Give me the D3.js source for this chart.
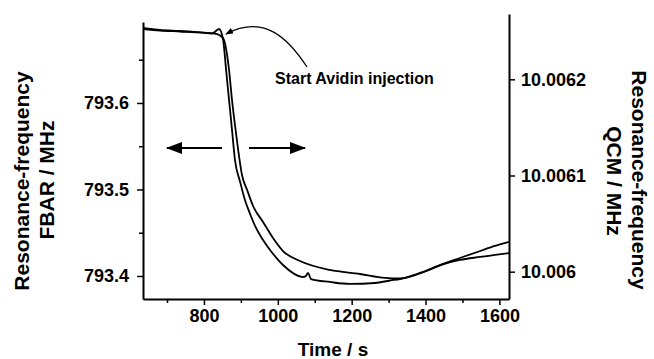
<!DOCTYPE html>
<html>
<head>
<meta charset="utf-8">
<script src="https://cdn.jsdelivr.net/npm/d3@7"></script>
<style>
  body { margin: 0; background: #fff; }
  svg { display: block; font-family: "Liberation Sans", Arial, sans-serif; font-weight: bold; }
  .axis path, .axis line { stroke: #000; }
</style>
</head>
<body>
<svg id="chart" width="654" height="359"></svg>
<script>
// FBAR curve (left axis)
var fbarTime = [635, 681, 735, 789, 822, 841, 852, 860, 868, 876, 884, 898, 911, 925, 941, 960, 979, 1014, 1068, 1076, 1082, 1090, 1141, 1195, 1263, 1304, 1331, 1385, 1447, 1493, 1548, 1588, 1626];
var fbarFreq = [793.6867, 793.6844, 793.6832, 793.6815, 793.6803, 793.6855, 793.6728, 793.6382, 793.6035, 793.5688, 793.5341, 793.5087, 793.4879, 793.4717, 793.4555, 793.4416, 793.4301, 793.4127, 793.3988, 793.4000, 793.4035, 793.3965, 793.3931, 793.3908, 793.3919, 793.3948, 793.3965, 793.4035, 793.4139, 793.4208, 793.4289, 793.4347, 793.4393];

// QCM curve (right axis)
var qcmTime = [635, 681, 735, 789, 830, 852, 868, 876, 884, 892, 903, 917, 933, 960, 987, 1014, 1060, 1141, 1223, 1290, 1331, 1385, 1447, 1493, 1548, 1588, 1626];
var qcmFreq = [10.0062523, 10.0062507, 10.0062497, 10.0062487, 10.0062476, 10.0062429, 10.0062097, 10.0061785, 10.0061525, 10.0061286, 10.0061005, 10.0060849, 10.0060683, 10.0060517, 10.0060350, 10.0060215, 10.0060111, 10.0060018, 10.0059976, 10.0059935, 10.0059929, 10.0059981, 10.0060075, 10.0060122, 10.0060153, 10.0060174, 10.0060194];

var xTicks = [800, 1000, 1200, 1400, 1600];
var xMinor = [700, 900, 1100, 1300, 1500];
var leftTicks = [793.4, 793.5, 793.6];
var leftLabels = ["793.4", "793.5", "793.6"];
var leftMinor = [793.45, 793.55, 793.65];
var rightTicks = [10.006, 10.0061, 10.0062];
var rightLabels = ["10.006", "10.0061", "10.0062"];

var svg = d3.select("#chart");

var x = d3.scaleLinear().domain([635, 1626]).range([143, 509]);
var yL = d3.scaleLinear().domain([793.3734, 793.6936]).range([299, 22]);
var yR = d3.scaleLinear().domain([10.0059716, 10.0062679]).range([299, 14]);

function styleAxis(g, size) {
    g.attr("class", "axis");
    g.select(".domain").attr("stroke-width", 2);
    g.selectAll(".tick line").attr("stroke-width", 1.5);
    g.selectAll("text").attr("fill", "#000").style("font-size", size + "px").style("font-weight", "bold");
}

function minorTicks(g) {
    g.select(".domain").remove();
    g.selectAll("line").attr("stroke", "#000").attr("stroke-width", 1.5);
}

// bottom axis
svg.append("g").attr("transform", "translate(0,299)")
    .call(d3.axisBottom(x).tickValues(xTicks).tickSize(6).tickSizeOuter(0).tickPadding(4).tickFormat(d3.format("d")))
    .call(styleAxis, 18);
svg.append("g").attr("transform", "translate(0,299)")
    .call(d3.axisBottom(x).tickValues(xMinor).tickSize(4).tickSizeOuter(0).tickFormat(""))
    .call(minorTicks);

// left axis
svg.append("g").attr("transform", "translate(143,0)")
    .call(d3.axisLeft(yL).tickValues(leftTicks).tickSize(6).tickSizeOuter(0).tickPadding(8).tickFormat(function(d, i) { return leftLabels[i]; }))
    .call(styleAxis, 18);
svg.append("g").attr("transform", "translate(143,0)")
    .call(d3.axisLeft(yL).tickValues(leftMinor).tickSize(4).tickSizeOuter(0).tickFormat(""))
    .call(minorTicks);

// right axis
svg.append("g").attr("transform", "translate(509,0)")
    .call(d3.axisRight(yR).tickValues(rightTicks).tickSize(6).tickSizeOuter(0).tickPadding(6).tickFormat(function(d, i) { return rightLabels[i]; }))
    .call(styleAxis, 18);

// curves
var fbarLine = d3.line().curve(d3.curveMonotoneX).x(function(d) { return x(d[0]); }).y(function(d) { return yL(d[1]); });
var qcmLine = d3.line().curve(d3.curveMonotoneX).x(function(d) { return x(d[0]); }).y(function(d) { return yR(d[1]); });

svg.append("path").datum(d3.zip(fbarTime, fbarFreq))
    .attr("d", fbarLine).attr("fill", "none").attr("stroke", "#000").attr("stroke-width", 1.8);
svg.append("path").datum(d3.zip(qcmTime, qcmFreq))
    .attr("d", qcmLine).attr("fill", "none").attr("stroke", "#000").attr("stroke-width", 1.8);

// arrow markers
var defs = svg.append("defs");
defs.append("marker").attr("id", "bighead").attr("viewBox", "0 0 16 12")
    .attr("refX", 15).attr("refY", 6).attr("markerWidth", 16).attr("markerHeight", 12)
    .attr("markerUnits", "userSpaceOnUse").attr("orient", "auto")
    .append("path").attr("d", "M0,0 L16,6 L0,12 Z").attr("fill", "#000");
defs.append("marker").attr("id", "smallhead").attr("viewBox", "0 0 8 6")
    .attr("refX", 7).attr("refY", 3).attr("markerWidth", 8).attr("markerHeight", 6)
    .attr("markerUnits", "userSpaceOnUse").attr("orient", "auto")
    .append("path").attr("d", "M0,0 L8,3 L0,6 Z").attr("fill", "#000");

// axis-pointing arrows
svg.append("line").attr("x1", 222).attr("y1", 148).attr("x2", 167).attr("y2", 148)
    .attr("stroke", "#000").attr("stroke-width", 2).attr("marker-end", "url(#bighead)");
svg.append("line").attr("x1", 249).attr("y1", 148).attr("x2", 305).attr("y2", 148)
    .attr("stroke", "#000").attr("stroke-width", 2).attr("marker-end", "url(#bighead)");

// annotation
svg.append("path").attr("d", "M307,67 C288,38 264,14 226,34")
    .attr("fill", "none").attr("stroke", "#000").attr("stroke-width", 1.2).attr("marker-end", "url(#smallhead)");
svg.append("text").attr("x", 275).attr("y", 84).style("font-size", "16px").text("Start Avidin injection");

// axis titles
svg.append("text").attr("x", 333).attr("y", 356).attr("text-anchor", "middle").style("font-size", "19px").text("Time / s");

svg.append("text").attr("transform", "translate(29,181) rotate(-90)").attr("text-anchor", "middle")
    .style("font-size", "21px").text("Resonance-frequency");
svg.append("text").attr("transform", "translate(54,180) rotate(-90)").attr("text-anchor", "middle")
    .style("font-size", "21px").text("FBAR / MHz");

svg.append("text").attr("transform", "translate(632,180) rotate(90)").attr("text-anchor", "middle")
    .style("font-size", "21px").text("Resonance-frequency");
svg.append("text").attr("transform", "translate(607,181) rotate(90)").attr("text-anchor", "middle")
    .style("font-size", "21px").text("QCM / MHz");
</script>
</body>
</html>
